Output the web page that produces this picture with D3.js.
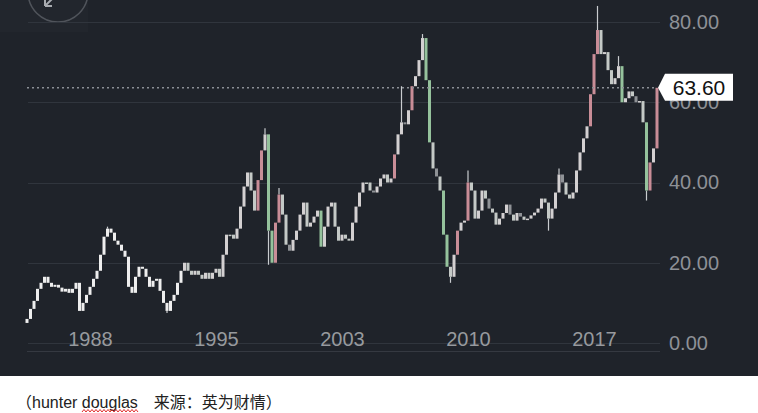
<!DOCTYPE html>
<html>
<head>
<meta charset="utf-8">
<script src="https://cdn.jsdelivr.net/npm/d3@7"></script>
<style>
  html, body { margin: 0; padding: 0; background: #fff; }
  svg { display: block; }
</style>
</head>
<body>
<div id="chart"></div>
<script>
////////////////////////////////////////////////////////////////
// Data
const yearLabels = ["1988", "1995", "2003", "2010", "2017"];
const yearIndex = [18, 54, 90, 126, 162]; // candle index where each year label sits
const yTicks = [0, 20, 40, 60, 80];
const lastPrice = 63.60;
const caption = "（hunter douglas　来源：英为财情）";

// one close per candle
const closes = [
  6, 8.5, 10.5, 13.5, 15, 16.5, 15, 14, 14.5, 13.8,
  12.8, 13.5, 12.5, 13.5, 15, 8, 10, 12, 14, 16,
  18, 22, 26.5, 28.5, 27.5, 25.5, 24.5, 23, 21.5, 14,
  12.5, 16.5, 19, 18.5, 16.5, 14, 15.5, 16, 13, 10,
  8, 10.5, 12, 15, 18, 20, 18, 17, 18, 17,
  16, 17.5, 16, 17.5, 18.5, 16.5, 22, 27, 27, 26,
  28.5, 34, 39, 42.5, 38, 33, 40.6, 48, 52, 28,
  20, 30, 37, 32, 24.5, 23, 25.7, 28, 32, 35,
  29, 30, 31.5, 33, 24, 29, 34, 35, 29, 25.5,
  27, 26, 25.5, 30, 34, 37.5, 40, 40, 38, 37.5,
  39, 41, 42, 40, 41, 47, 52, 55, 54.5, 58,
  64, 66.5, 70.5, 76, 65.5, 50, 43.5, 41.5, 38, 27,
  19, 16.5, 22, 28, 30, 30.5, 40, 38, 31, 33,
  38, 36, 33.5, 32.5, 29.5, 31, 32.4, 34.5, 32, 30.5,
  32.4, 31.5, 30.7, 31, 31.8, 32.5, 33.5, 36, 35, 31,
  33.5, 37.5, 42, 40, 37, 36, 37.5, 43, 47.5, 51,
  54, 62, 72, 78, 72, 72.5, 68, 64.5, 66, 69,
  60, 61, 62.7, 61.5, 60, 60.3, 55, 38, 45, 48.5,
  63.6
];

// [candle index, extreme value] for the visible wick spikes
const spikes = [
  [40, 7.5], [23, 29], [68, 53.5], [69, 19.5], [72, 38.6], [107, 64],
  [113, 77], [121, 15], [126, 43], [149, 28], [152, 43.5], [163, 84],
  [169, 71.5], [177, 35.5]
];

////////////////////////////////////////////////////////////////
// Layout
const width = 758, height = 413;
const panelH = 376;
const plotLeft = 27, plotRight = 660;

const x = d3.scaleLinear([0, closes.length - 1], [plotLeft, 657]);
const y = d3.scaleLinear([0, 80], [343, 22]);

const svg = d3.select("#chart").append("svg")
  .attr("width", width)
  .attr("height", height)
  .attr("viewBox", [0, 0, width, height]);

svg.append("rect")
  .attr("width", width).attr("height", panelH)
  .attr("fill", "#1f232a");

// faint button area + circle at top-left
svg.append("rect")
  .attr("x", 0).attr("y", 0).attr("width", 88).attr("height", 32)
  .attr("fill", "#22262d");
svg.append("circle")
  .attr("cx", 58).attr("cy", -8).attr("r", 30)
  .attr("fill", "none")
  .attr("stroke", "#50545b")
  .attr("stroke-width", 1.5);
svg.append("path")
  .attr("d", "M56,-5 L45,6 M45,6 L45,0 M45,6 L52,6")
  .attr("fill", "none")
  .attr("stroke", "#a8abb0")
  .attr("stroke-width", 2);

// gridlines
svg.append("g")
  .selectAll("line")
  .data(yTicks)
  .join("line")
  .attr("x1", plotLeft + 1).attr("x2", plotRight)
  .attr("y1", d => Math.round(y(d)) + 0.5)
  .attr("y2", d => Math.round(y(d)) + 0.5)
  .attr("stroke", "#30353d")
  .attr("stroke-width", 1);

// bottom axis rule
svg.append("line")
  .attr("x1", plotLeft).attr("x2", plotRight)
  .attr("y1", 351.5).attr("y2", 351.5)
  .attr("stroke", "#353941");

// y axis labels
const yAxis = svg.append("g")
  .attr("transform", `translate(${plotRight},0)`)
  .call(d3.axisRight(y).tickValues(yTicks).tickFormat(d3.format(".2f")).tickSize(0).tickPadding(9));
yAxis.select(".domain").remove();
yAxis.selectAll("text")
  .attr("fill", "#8e9197")
  .style("font", "20px 'Liberation Sans', Arial, sans-serif");

// x axis labels
const xAxis = svg.append("g")
  .attr("transform", "translate(0,332)")
  .call(d3.axisBottom(x).tickValues(yearIndex).tickFormat((d, i) => yearLabels[i]).tickSize(0).tickPadding(0));
xAxis.select(".domain").remove();
xAxis.selectAll("text")
  .attr("fill", "#979a9e")
  .style("font", "20px 'Liberation Sans', Arial, sans-serif");

// candles: body from previous close to close
const candles = closes.map((c, i) => ({ i, open: i === 0 ? c - 1 : closes[i - 1], close: c }));

const barColor = d => {
  const ch = d.close - d.open;
  if (d.i < 45) return "#eeeeee";
  if (ch >= 6) return "#c98d97";
  if (ch <= -8) return "#95c29c";
  if (ch > 0) return "#d3d0d1";
  return d.i % 3 === 0 ? "#8f9296" : "#c4c9c6";
};

// wick spikes
svg.append("g")
  .selectAll("line")
  .data(spikes)
  .join("line")
  .attr("x1", d => x(d[0])).attr("x2", d => x(d[0]))
  .attr("y1", d => y(d[1]))
  .attr("y2", d => y(closes[d[0]]))
  .attr("stroke", "#c9cccf")
  .attr("stroke-width", 1.2);

svg.append("g")
  .selectAll("rect")
  .data(candles)
  .join("rect")
  .attr("x", d => x(d.i) - 1.5)
  .attr("width", 3)
  .attr("y", d => y(Math.max(d.open, d.close)))
  .attr("height", d => Math.max(1.5, Math.abs(y(d.open) - y(d.close))))
  .attr("fill", barColor);

// dotted last price line
svg.append("line")
  .attr("x1", plotLeft).attr("x2", 655)
  .attr("y1", y(lastPrice)).attr("y2", y(lastPrice))
  .attr("stroke", "#8c9096")
  .attr("stroke-width", 1.5)
  .attr("stroke-dasharray", "2,3");

// price tag
const ty = y(lastPrice);
svg.append("path")
  .attr("d", `M658,${ty} L665,${ty - 14} L733,${ty - 14} L733,${ty + 13} L665,${ty + 13} Z`)
  .attr("fill", "#ffffff");
svg.append("text")
  .attr("x", 699).attr("y", ty)
  .attr("dy", "0.36em")
  .attr("text-anchor", "middle")
  .attr("fill", "#111")
  .style("font", "21px 'Liberation Sans', Arial, sans-serif")
  .text(d3.format(".2f")(lastPrice));

// caption below the panel
svg.append("text")
  .attr("x", 16).attr("y", 408)
  .attr("fill", "#222")
  .style("font", "16px 'Liberation Sans', 'Noto Sans CJK SC', sans-serif")
  .text(caption);

// red squiggle under "douglas"
const squiggle = d3.range(82, 139, 2).map((px, k) => [px, k % 2 ? 409.5 : 412]);
svg.append("path")
  .attr("d", d3.line()(squiggle))
  .attr("fill", "none")
  .attr("stroke", "#e02b2b")
  .attr("stroke-width", 1);
</script>
</body>
</html>
